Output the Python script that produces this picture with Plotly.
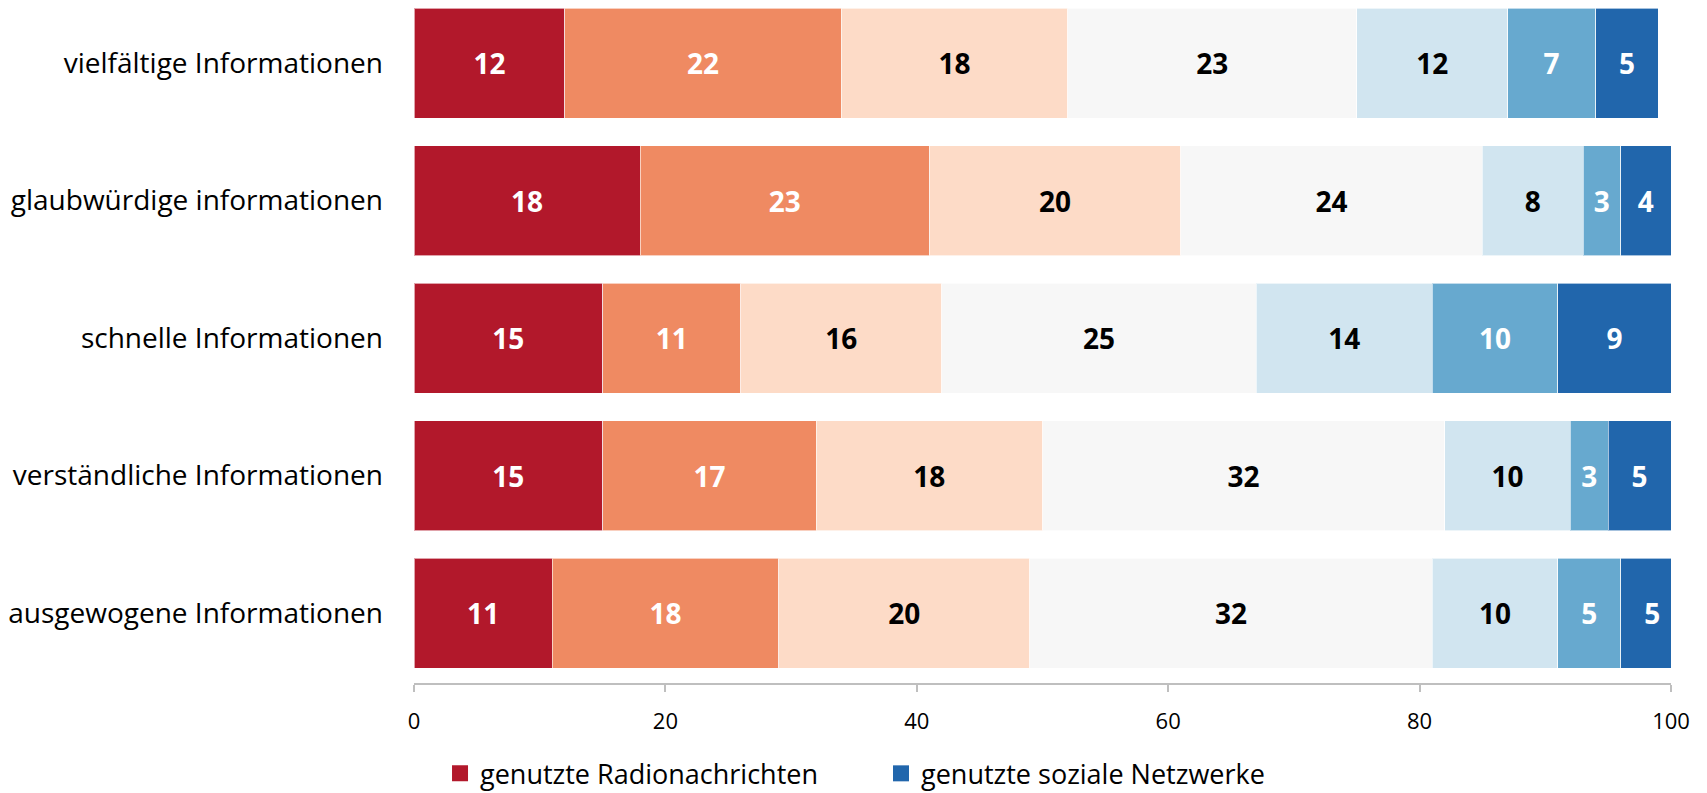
import plotly.graph_objects as go

categories = [
    "vielfältige Informationen",
    "glaubwürdige informationen",
    "schnelle Informationen",
    "verständliche Informationen",
    "ausgewogene Informationen",
]

s1 = [12, 18, 15, 15, 11]
s2 = [22, 23, 11, 17, 18]
s3 = [18, 20, 16, 18, 20]
s4 = [23, 24, 25, 32, 32]
s5 = [12, 8, 14, 10, 10]
s6 = [7, 3, 10, 3, 5]
s7 = [5, 4, 9, 5, 5]

series = [s1, s2, s3, s4, s5, s6, s7]
colors = ["#B2182B", "#EF8A62", "#FDDBC7", "#F7F7F7", "#D1E5F0", "#67A9CF", "#2166AC"]
text_colors = ["white", "white", "black", "black", "black", "white", "white"]

legend_names = ["genutzte Radionachrichten", "genutzte soziale Netzwerke"]
legend_colors = [colors[0], colors[-1]]

x_ticks = [0, 20, 40, 60, 80, 100]

FONT = "Open Sans"

fig = go.Figure()
for vals, col, tcol in zip(series, colors, text_colors):
    fig.add_trace(go.Bar(
        y=categories, x=vals, orientation="h",
        marker=dict(color=col, line=dict(color="rgba(255,255,255,0.6)", width=1)),
        text=[str(v) for v in vals],
        textposition="inside", insidetextanchor="middle",
        textfont=dict(family=FONT, size=28, color=tcol, weight="bold"),
        constraintext="none",
        width=0.8, showlegend=False, hoverinfo="skip",
    ))

for name, col in zip(legend_names, legend_colors):
    fig.add_trace(go.Scatter(
        x=[None], y=[None], mode="markers", name=name,
        marker=dict(symbol="square", size=17, color=col),
        showlegend=True,
    ))

fig.update_layout(
    width=1699, height=785,
    barmode="stack",
    plot_bgcolor="white", paper_bgcolor="white",
    margin=dict(l=406, r=36, t=0, b=110, autoexpand=False),
    font=dict(family=FONT, color="black"),
    xaxis=dict(
        range=[0, 100], tickvals=x_ticks, showgrid=False, zeroline=False,
        showline=True, linecolor="#BFBFBF", linewidth=1.5,
        ticks="outside", ticklen=7, tickcolor="#BFBFBF", tickwidth=1.5,
        tickfont=dict(family=FONT, size=22, color="black"),
        ticklabelstandoff=11,
        fixedrange=True,
    ),
    yaxis=dict(
        type="category", categoryorder="array", categoryarray=categories[::-1],
        range=[-0.509, 4.4], showgrid=False, zeroline=False, showline=False,
        ticks="", ticklabelstandoff=30,
        tickfont=dict(family=FONT, size=28, color="black"),
    ),
    legend=dict(
        orientation="h", traceorder="normal",
        x=0.0207, xanchor="left", y=-0.1345, yanchor="middle",
        font=dict(family=FONT, size=27, color="black"),
        entrywidth=396, entrywidthmode="pixels",
        itemclick=False, bgcolor="rgba(0,0,0,0)",
    ),
)

fig.write_html("out.html")
